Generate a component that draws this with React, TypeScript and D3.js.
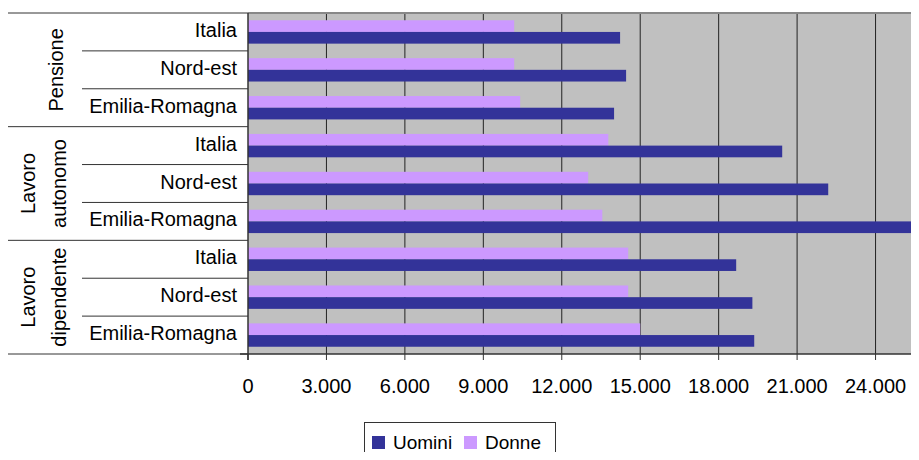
import React from "react";
import * as d3 from "d3";

// gruppi e categorie (dall'alto verso il basso)
const groups = [
  { name: ["Pensione"], cats: ["Italia", "Nord-est", "Emilia-Romagna"] },
  { name: ["Lavoro", "autonomo"], cats: ["Italia", "Nord-est", "Emilia-Romagna"] },
  { name: ["Lavoro", "dipendente"], cats: ["Italia", "Nord-est", "Emilia-Romagna"] },
];
const series = ["Uomini", "Donne"];
const uomini = [14230, 14460, 14000, 20430, 22190, 25400, 18670, 19290, 19360];
const donne = [10180, 10180, 10410, 13780, 13010, 13550, 14540, 14540, 15000];
const xTicks = [0, 3000, 6000, 9000, 12000, 15000, 18000, 21000, 24000];
const colors: Record<string, string> = { Uomini: "#333399", Donne: "#CC99FF" };

const W = 919;
const H = 460;
const font = "'Liberation Sans', Arial, sans-serif";

const fmt = (v: number) => d3.format(",")(v).replace(/,/g, ".");

export default function App() {
  const left = 248;
  const top = 13;
  const bottom = 354;
  const right = 920;

  const rows = groups.flatMap((g, gi) => g.cats.map((c, ci) => ({ key: `${gi}-${ci}`, label: c, gi })));
  const x = d3.scaleLinear().domain([0, 25700]).range([left, right]);
  const y = d3.scaleBand<string>().domain(rows.map((r) => r.key)).range([top, bottom]);
  const inner = d3.scaleBand<string>().domain(["Donne", "Uomini"]).range([0, y.bandwidth()]).paddingOuter(0.62);

  const step = y.step();

  return (
    <div style={{ margin: -8 }}>
      <svg width={W} height={H} style={{ display: "block", fontFamily: font }}>
        <rect x={0} y={0} width={W} height={H} fill="#fff" />
        {/* area del grafico */}
        <rect x={left} y={top} width={right - left} height={bottom - top} fill="#C0C0C0" />
        {xTicks.slice(1).map((t) => (
          <line key={t} x1={x(t)} x2={x(t)} y1={top} y2={bottom} stroke="#222" strokeWidth={1} />
        ))}
        {/* barre */}
        {rows.map((r, i) => (
          <g key={r.key} transform={`translate(0,${y(r.key)})`}>
            <rect x={x(0)} y={inner("Donne")} width={x(donne[i]) - x(0)} height={inner.bandwidth()} fill={colors.Donne} />
            <rect x={x(0)} y={inner("Uomini")} width={x(uomini[i]) - x(0)} height={inner.bandwidth()} fill={colors.Uomini} />
          </g>
        ))}
        <line x1={left} x2={right} y1={top} y2={top} stroke="#888" strokeWidth={2} />
        {/* asse verticale e tabella etichette */}
        <line x1={left} x2={left} y1={top} y2={bottom + 6} stroke="#333" strokeWidth={1.5} />
        {rows.map((r, i) => {
          const yy = (y(r.key) as number) + step;
          const isGroupEnd = i % 3 === 2;
          return (
            <line key={"l" + r.key} x1={isGroupEnd ? 8 : 82} x2={left} y1={yy} y2={yy} stroke="#333" strokeWidth={1} />
          );
        })}
        <line x1={8} x2={left} y1={top} y2={top} stroke="#333" strokeWidth={1} />
        {rows.map((r) => (
          <text
            key={"t" + r.key}
            x={237}
            y={(y(r.key) as number) + step / 2 + 5}
            textAnchor="end"
            fontSize={20}
            fill="#000"
          >
            {r.label}
          </text>
        ))}
        {groups.map((g, gi) => {
          const y0 = y(`${gi}-0`) as number;
          const cy = y0 + (step * 3) / 2;
          const baselines = g.name.length === 1 ? [63] : [35, 66];
          return g.name.map((n, ni) => (
            <text
              key={`g${gi}-${ni}`}
              transform={`translate(${baselines[ni]},${cy}) rotate(-90)`}
              textAnchor="middle"
              fontSize={20}
              fill="#000"
            >
              {n}
            </text>
          ));
        })}
        {/* asse orizzontale */}
        <line x1={240} x2={right} y1={bottom} y2={bottom} stroke="#333" strokeWidth={1.5} />
        {xTicks.map((t) => (
          <g key={"x" + t}>
            <line x1={x(t)} x2={x(t)} y1={bottom} y2={bottom + 6} stroke="#333" strokeWidth={1} />
            <text x={x(t)} y={393} textAnchor="middle" fontSize={20} fill="#000">
              {fmt(t)}
            </text>
          </g>
        ))}
        {/* legenda */}
        <rect x={364.5} y={422.5} width={191} height={50} fill="#fff" stroke="#333" strokeWidth={1} />
        {series.map((s, i) => {
          const lx = i === 0 ? 372 : 464;
          return (
            <g key={s}>
              <rect x={lx} y={436} width={13} height={13} fill={colors[s]} />
              <text x={lx + 21} y={449} fontSize={19} fill="#000">
                {s}
              </text>
            </g>
          );
        })}
      </svg>
    </div>
  );
}
